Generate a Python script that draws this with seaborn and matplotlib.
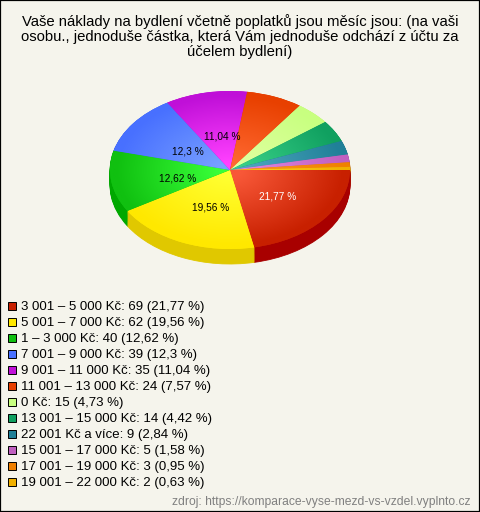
import numpy as np
import matplotlib
matplotlib.use('Agg')
import matplotlib.pyplot as plt
from matplotlib.lines import Line2D
from matplotlib.colors import LinearSegmentedColormap
import seaborn as sns

title = "Vaše náklady na bydlení včetně poplatků jsou měsíc jsou: (na vaši\nosobu., jednoduše částka, která Vám jednoduše odchází z účtu za\núčelem bydlení)"
source = "zdroj: https://komparace-vyse-mezd-vs-vzdel.vyplnto.cz"
categories = ["3 001 – 5 000 Kč", "5 001 – 7 000 Kč", "1 – 3 000 Kč", "7 001 – 9 000 Kč",
              "9 001 – 11 000 Kč", "11 001 – 13 000 Kč", "0 Kč", "13 001 – 15 000 Kč",
              "22 001 Kč a více", "15 001 – 17 000 Kč", "17 001 – 19 000 Kč", "19 001 – 22 000 Kč"]
counts = [69, 62, 40, 39, 35, 24, 15, 14, 9, 5, 3, 2]
shares = ["21,77", "19,56", "12,62", "12,3", "11,04", "7,57", "4,73", "4,42", "2,84", "1,58", "0,95", "0,63"]
# legend / base colour, lighter centre of the gradient, darker side wall
base_colors = ["#c82000", "#ffe800", "#10c010", "#4870ff", "#c010d8", "#e84000",
               "#c8ff80", "#10a060", "#208098", "#c060c0", "#f08000", "#f0b000"]
light_colors = ["#f85838", "#ffff30", "#38ff38", "#78a0ff", "#ff40ff", "#ff6830",
                "#e0ffa0", "#38d088", "#50a8c0", "#e088e0", "#ff9820", "#ffd020"]
side_colors = ["#a80000", "#e0c800", "#00a800", "#3050c0", "#9000a0", "#b83000",
               "#a0d060", "#088048", "#106078", "#984898", "#c06000", "#c89000"]
bg = "#f5f4ec"

sns.set_theme(style="white")
plt.rcParams['font.family'] = ['Liberation Sans', 'DejaVu Sans']

W, H = 480, 512
fig = plt.figure(figsize=(W / 100, H / 100), dpi=100, facecolor=bg)

# pie axes: 240 x 158 px ellipse, centre at (230, 170)
depth = 15 / 79
ax = fig.add_axes([110 / W, 1 - 270 / H, 240 / W, 180 / H])
solid = dict(linewidth=0.6)
for d in np.arange(depth, 0, -0.012):
    side, _ = ax.pie(counts, colors=side_colors, startangle=0, counterclock=False, radius=1,
                     center=(0, -d), wedgeprops=solid)
    for s, c in zip(side, side_colors):
        s.set_edgecolor(c)
wedges, _ = ax.pie(counts, colors=base_colors, startangle=0, counterclock=False, radius=1,
                   center=(0, 0), wedgeprops=dict(linewidth=0))
ax.set_aspect('auto')

# radial gradient clipped to every wedge
gx, gy = np.meshgrid(np.linspace(-1, 1, 300), np.linspace(-1.3, 1.05, 300))
rad = np.clip(np.hypot(gx, gy), 0, 1)
for w, c0, c1 in zip(wedges, light_colors, base_colors):
    cmap = LinearSegmentedColormap.from_list("w", [c0, c1])
    im = ax.imshow(rad, extent=(-1, 1, -1.3, 1.05), origin='lower', cmap=cmap, vmin=0.1, vmax=0.95,
                   aspect='auto', zorder=3, interpolation='bilinear')
    im.set_clip_path(w)
ax.set_xlim(-1, 1)
ax.set_ylim(-1 - 21 / 79, 1 + 1 / 79)
ax.axis('off')

# value labels on the large slices
ang = np.cumsum([0] + counts) / sum(counts) * 2 * np.pi
for i in range(5):
    mid = (ang[i] + ang[i + 1]) / 2
    ax.text(0.47 * np.cos(mid) + 0.03, -0.47 * np.sin(mid) - 0.04, shares[i] + " %", ha='center', va='center',
            fontsize=7.3, color='white' if i == 0 else 'black', zorder=5)

fig.text(240 / W, 1 - 14 / H, title, ha='center', va='top', fontsize=10.75, color='black', linespacing=1.1)

# legend
handles = [Line2D([], [], ls='', marker='s', ms=6.2, mfc=c, mec='black', mew=0.7) for c in base_colors]
labels = [f"{c}: {n} ({s} %)" for c, n, s in zip(categories, counts, shares)]
fig.legend(handles, labels, loc='upper left', bbox_to_anchor=(-8 / W, 1 - 289 / H), frameon=False,
           fontsize=9.55, labelspacing=0.28, handletextpad=0.0, handlelength=1.25, borderpad=0.4,
           labelcolor='black')

fig.text(470 / W, 1 - 501.5 / H, source, ha='right', va='center', fontsize=8.7, color='#808080')
fig.patches.append(plt.Rectangle((0, 0), 1, 1, transform=fig.transFigure, fill=False, ec='black', lw=1.6))

fig.savefig("out.png", dpi=100, facecolor=bg)
